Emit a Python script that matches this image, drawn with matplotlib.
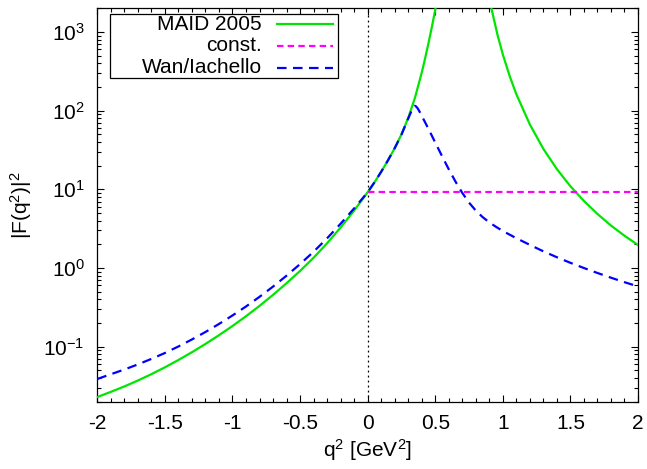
import matplotlib
matplotlib.use("Agg")
import numpy as np
import matplotlib.pyplot as plt
from matplotlib.patches import Rectangle
from matplotlib.lines import Line2D
from matplotlib.ticker import MultipleLocator, LogLocator, NullFormatter, FuncFormatter

plt.rcParams['font.family'] = ['Liberation Sans', 'DejaVu Sans']
plt.rcParams['mathtext.fontset'] = 'custom'
plt.rcParams['mathtext.rm'] = 'Liberation Sans'
plt.rcParams['mathtext.it'] = 'Liberation Sans:italic'

# Values, stored as log10(|F|^2)
# MAID 2005, branch left of the pole
maid_left_x = [-2.0, -1.9, -1.8, -1.7, -1.6, -1.5, -1.4, -1.3, -1.2, -1.1, -1.0, -0.9, -0.8, -0.7, -0.6,
               -0.5, -0.4, -0.3, -0.2, -0.1, 0.0, 0.05, 0.1, 0.15, 0.2, 0.25, 0.3, 0.35, 0.4, 0.425,
               0.45, 0.475, 0.5, 0.525]
maid_left_log = [-1.64, -1.574, -1.505, -1.43, -1.349, -1.262, -1.169, -1.07, -0.965, -0.854, -0.737,
                 -0.613, -0.481, -0.341, -0.193, -0.037, 0.131, 0.315, 0.515, 0.731, 0.963, 1.088,
                 1.223, 1.368, 1.523, 1.699, 1.908, 2.164, 2.483, 2.664, 2.858, 3.064, 3.283, 3.514]
# MAID 2005, branch right of the pole
maid_right_x = [0.9, 0.92, 0.96, 1.0, 1.05, 1.1, 1.2, 1.3, 1.4, 1.5, 1.6, 1.7, 1.8, 1.9, 2.0]
maid_right_log = [3.434, 3.266, 2.968, 2.714, 2.443, 2.209, 1.824, 1.514, 1.257, 1.039, 0.852, 0.687,
                  0.54, 0.41, 0.293]

# constant
const_x = [0.0, 2.0]
const_y = [9.2, 9.2]

# Wan/Iachello
wan_x = [-2.0, -1.9, -1.8, -1.7, -1.6, -1.5, -1.4, -1.3, -1.2, -1.1, -1.0, -0.9, -0.8, -0.7, -0.6,
         -0.5, -0.4, -0.3, -0.2, -0.1, 0.0, 0.05, 0.1, 0.15, 0.2, 0.25, 0.3, 0.32, 0.335, 0.345,
         0.355, 0.37, 0.385, 0.4, 0.45, 0.5, 0.55, 0.6, 0.65, 0.7, 0.75, 0.8, 0.85, 0.9, 0.95,
         1.0, 1.1, 1.2, 1.3, 1.4, 1.5, 1.6, 1.7, 1.8, 1.9, 2.0]
wan_log = [-1.41, -1.35, -1.29, -1.225, -1.155, -1.08, -0.997, -0.908, -0.813, -0.711, -0.603,
           -0.489, -0.366, -0.236, -0.097, 0.05, 0.207, 0.378, 0.563, 0.758, 0.963, 1.088,
           1.223, 1.368, 1.523, 1.695, 1.9, 1.98, 2.035, 2.062, 2.058, 2.03, 1.985, 1.935, 1.768,
           1.595, 1.423, 1.255, 1.098, 0.955, 0.831, 0.73, 0.648, 0.58, 0.523, 0.47, 0.379,
           0.294, 0.212, 0.137, 0.066, 0.0, -0.063, -0.123, -0.18, -0.234]

labels = ["MAID 2005", "const.", "Wan/Iachello"]
green = '#00e600'
magenta = '#ff00ff'
blue = '#0000ff'

fig = plt.figure(figsize=(6.47, 4.69), dpi=100)
ax = fig.add_axes([0.1504, 0.1435, 0.9861 - 0.1504, 0.9823 - 0.1435])

ax.set_yscale('log')
ax.set_xlim(-2, 2)
ax.set_ylim(0.02, 2000)

ax.axvline(0, color='black', lw=0.9, ls=(0, (1.5, 2.5)), zorder=1)

ax.plot(maid_left_x, 10 ** np.array(maid_left_log), color=green, lw=1.6, zorder=3)
ax.plot(maid_right_x, 10 ** np.array(maid_right_log), color=green, lw=1.6, zorder=3)
ax.plot(const_x, const_y, color=magenta, lw=1.6, dashes=(2.9, 1.9), zorder=3)
ax.plot(wan_x, 10 ** np.array(wan_log), color=blue, lw=1.6, dashes=(4.3, 2.9), zorder=4)

ax.xaxis.set_major_locator(MultipleLocator(0.5))
ax.xaxis.set_minor_locator(MultipleLocator(0.1))
ax.yaxis.set_major_locator(LogLocator(base=10, numticks=20))
ax.yaxis.set_minor_locator(LogLocator(base=10, subs=range(2, 10), numticks=20))
ax.yaxis.set_minor_formatter(NullFormatter())
ax.xaxis.set_major_formatter(FuncFormatter(lambda v, p: ('%g' % v)))

ax.tick_params(which='both', direction='in', top=True, right=True, labelsize=15, width=0.8)
ax.tick_params(which='major', length=5, pad=9)
ax.tick_params(which='minor', length=3)
for s in ax.spines.values():
    s.set_linewidth(0.9)

ax.set_xlabel('q$^2$ [GeV$^2$]', fontsize=15, labelpad=3)
ax.set_ylabel('|F(q$^2$)|$^2$', fontsize=15)
ax.yaxis.set_label_coords(-0.118, 0.5)

# gnuplot-style legend box
ax.add_patch(Rectangle((0.0235, 0.822), 0.445 - 0.0235, 0.9847 - 0.822, transform=ax.transAxes,
                       fill=True, facecolor='white', edgecolor='black', lw=0.9, zorder=5))
rows = [0.960, 0.9047, 0.849]
styles = [dict(color=green, lw=1.6),
          dict(color=magenta, lw=1.6, dashes=(2.9, 1.9)),
          dict(color=blue, lw=1.6, dashes=(4.3, 2.9))]
for lab, yy, st in zip(labels, rows, styles):
    ax.text(0.304, yy, lab, transform=ax.transAxes, ha='right', va='center', fontsize=15, zorder=6)
    ax.add_line(Line2D([0.332, 0.436], [yy, yy], transform=ax.transAxes, zorder=6, **st))

fig.savefig('out.png', dpi=100)
